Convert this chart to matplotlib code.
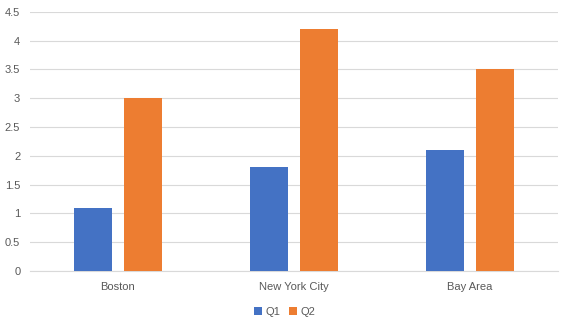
import matplotlib.pyplot as plt
import numpy as np

cities = ["Boston", "New York City", "Bay Area"]
q1 = [1.1, 1.8, 2.1]
q2 = [3.0, 4.2, 3.5]
yticks = [0, 0.5, 1, 1.5, 2, 2.5, 3, 3.5, 4, 4.5]

plt.rcParams['font.family'] = ['Liberation Sans', 'DejaVu Sans']
txt = '#595959'

fig = plt.figure(figsize=(5.69, 3.26), dpi=100)
ax = fig.add_axes([0.0527, 0.1687, 0.928, 0.795])

x = np.arange(len(cities))
w = 0.22
ax.bar(x - 0.142, q1, w, color='#4472C4', label='Q1', zorder=3)
ax.bar(x + 0.142, q2, w, color='#ED7D31', label='Q2', zorder=3)

ax.set_xlim(-0.5, 2.5)
ax.set_ylim(0, 4.5)
ax.set_yticks(yticks)
ax.set_yticklabels([f"{v:g}" for v in yticks])
ax.set_xticks(x)
ax.set_xticklabels(cities)
ax.tick_params(axis='both', length=0, labelsize=8, colors=txt)
ax.tick_params(axis='x', pad=8)
ax.tick_params(axis='y', pad=7)
ax.grid(axis='y', color='#D9D9D9', linewidth=0.8, zorder=0)
for s in ['top', 'right', 'left']:
    ax.spines[s].set_visible(False)
ax.spines['bottom'].set_color('#D9D9D9')
ax.spines['bottom'].set_linewidth(0.8)

leg = fig.legend(loc='center', bbox_to_anchor=(0.5, 0.043), ncol=2, frameon=False,
                 fontsize=8, handlelength=0.7, handleheight=0.7, handletextpad=0.3,
                 columnspacing=0.8)
for t in leg.get_texts():
    t.set_color(txt)

fig.savefig('out.png', dpi=100)
